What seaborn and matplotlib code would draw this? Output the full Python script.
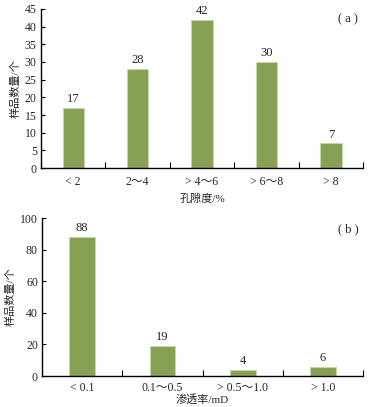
import numpy as np
import pandas as pd
import matplotlib
matplotlib.use("Agg")
import matplotlib.pyplot as plt
import seaborn as sns

# porosity distribution (a)
porosity_bins = ["< 2", "2～4", "> 4～6", "> 6～8", "> 8"]
porosity_counts = [17, 28, 42, 30, 7]

# permeability distribution (b)
perm_bins = ["< 0.1", "0.1～0.5", "> 0.5～1.0", "> 1.0"]
perm_counts = [88, 19, 4, 6]

BAR_COLOR = "#86a152"
EDGE_COLOR = "#c8d6ab"
FONTS = ["Liberation Serif", "Noto Sans CJK SC", "DejaVu Sans"]

sns.set_theme(style="white")
plt.rcParams["font.family"] = FONTS
plt.rcParams["axes.unicode_minus"] = False


def draw_panel(ax, cats, vals, ymax, ystep, xlabel, tag, width, tpad, lpad):
    df = pd.DataFrame({"cat": cats, "n": vals})
    sns.barplot(data=df, x="cat", y="n", ax=ax, color=BAR_COLOR,
                width=width, edgecolor=EDGE_COLOR, linewidth=0.8,
                saturation=1)
    ax.bar_label(ax.containers[0], padding=2, fontsize=9)

    n = len(cats)
    ax.set_xlim(-0.5, n - 0.5)
    ax.set_ylim(0, ymax)
    ax.set_yticks(np.arange(0, ymax + 1, ystep))
    ax.set_xticks(np.arange(-0.5, n, 1.0), minor=True)
    ax.tick_params(axis="x", which="major", length=0, labelsize=8.5, pad=tpad)
    ax.tick_params(axis="x", which="minor", direction="in", length=4,
                   width=0.8, color="black", bottom=True)
    ax.tick_params(axis="y", direction="in", length=3, width=0.8,
                   labelsize=8.5, pad=3, left=True, color="black")

    for s in ["top", "right"]:
        ax.spines[s].set_visible(False)
    for s in ["left", "bottom"]:
        ax.spines[s].set_color("black")
        ax.spines[s].set_linewidth(1.0)

    ax.set_xlabel(xlabel, fontsize=8, labelpad=lpad)
    ax.set_ylabel("样品数量/个", fontsize=8, labelpad=3)
    ax.text(0.985, 0.97, tag, transform=ax.transAxes, ha="right",
            va="top", fontsize=9)


fig = plt.figure(figsize=(3.69, 4.07), dpi=100)
ax_a = fig.add_axes([0.111, 0.587, 0.873, 0.391])
ax_b = fig.add_axes([0.114, 0.076, 0.870, 0.388])

draw_panel(ax_a, porosity_bins, porosity_counts, 45, 5, "孔隙度/%", "( a )", 0.33, 6, 4)
draw_panel(ax_b, perm_bins, perm_counts, 100, 20, "渗透率/mD", "( b )", 0.32, 4, 0)

fig.savefig("out.png", dpi=100)
plt.close(fig)
